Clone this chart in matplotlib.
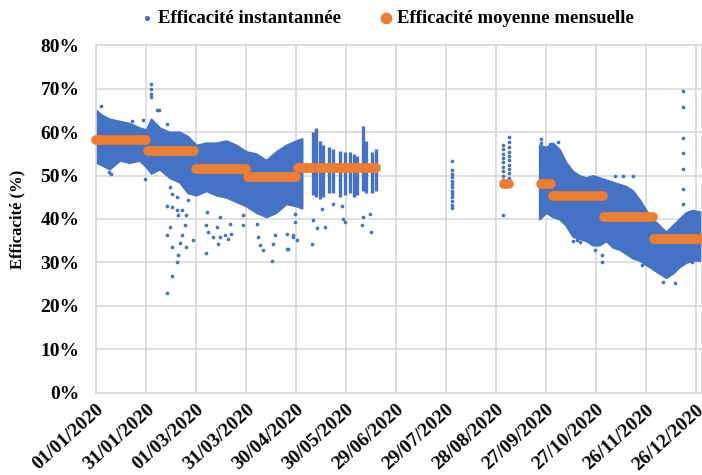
import numpy as np
import matplotlib.pyplot as plt
import matplotlib.dates as mdates
from matplotlib.ticker import PercentFormatter

## Fonts: bold serif everywhere.
plt.rcParams['font.family'] = ['Liberation Serif', 'DejaVu Serif']
plt.rcParams['font.weight'] = 'bold'
plt.rcParams['axes.labelweight'] = 'bold'

BLUE = "#4472C4"
ORANGE = "#ED7D31"
START = mdates.date2num(np.datetime64('2020-01-01'))

## Dense cloud of readings, January to early May (day of year, min %, max %).
spring_days = [0, 3, 8, 14, 20, 26, 30, 33, 38, 44, 50, 55, 60, 66, 72, 78, 84, 90, 96, 102, 108, 114, 120, 123.5]
spring_low = [53, 52.5, 51.5, 53.5, 53, 53.5, 52, 50.5, 51.5, 49.5, 48.5, 46, 45.5, 46.5, 45.5, 45, 44, 43, 41.5, 40.5, 41.5, 43.5, 43, 42.5]
spring_high = [65, 64, 63, 62.5, 62, 61, 60.5, 63, 61, 60, 60, 59, 57, 57.5, 57.5, 58, 57, 55.5, 55, 53.5, 55.5, 57, 58, 58.5]

## Daily columns of readings in May and June.
column_days = [130.4, 132, 134.4, 136.2, 139.8, 142.2, 146.4, 149.4, 152.4, 154.8, 156.6, 160.2, 162, 165.6, 168]
column_low = [45.5, 45, 44.5, 45, 46, 46, 45, 45.5, 46, 45, 45.5, 46.5, 46, 46, 46.5]
column_high = [59.9, 61, 58, 57, 56.5, 56, 55.7, 55.5, 55.3, 55, 54.5, 61.5, 58, 55.5, 56]

## Dense cloud of readings, late September to December.
autumn_days = [266, 270, 274, 278, 282, 286, 290, 294, 298, 302, 306, 310, 314, 318, 322, 326, 330, 334, 338, 342, 346, 350, 354, 358, 364]
autumn_low = [40, 41.5, 40.5, 40, 38.5, 36, 35.5, 35, 34, 34, 35, 33.5, 33, 32, 31, 30.5, 29.5, 28.5, 27.5, 26.5, 27.5, 29, 30, 30.5, 30.5]
autumn_high = [57, 56.5, 57.5, 56, 53, 51, 50, 49.5, 50, 49.5, 49, 48.5, 48, 47.5, 46.5, 44.5, 42, 40, 38.5, 37, 38.5, 40, 41.5, 42, 41.5]

## Isolated readings outside the dense clouds (day of year, %).
winter_strays = [(3, 66), (21.4, 62.6), (28.4, 62.8), (33, 71), (33, 69.9), (33, 68.7), (33, 68),
                 (36.4, 65.1), (37.8, 65.1), (42.4, 61.9), (7.4, 50.8), (8.8, 50.4), (29.4, 49.2),
                 (42.4, 43.1), (45.4, 42.7), (48.8, 42), (51.4, 42), (44.4, 38.1), (42.4, 36.2),
                 (51.4, 36.2), (58.4, 35.1), (50.4, 34.5), (54, 33.6), (45.4, 33.6), (49.4, 31.7),
                 (48.4, 30.1), (45.4, 26.9), (42.4, 23), (53.4, 38.5), (49.4, 40.8), (54, 40.8),
                 (44.4, 47.3), (45.4, 45.8), (48.8, 45), (55, 44.3)]
spring_strays = [(66.4, 41.6), (67.4, 37), (66, 38.5), (65.8, 32.2), (70.4, 35.8), (73, 34.3),
                 (74.4, 35.8), (72.4, 38.1), (77.4, 36.2), (79.4, 35.5), (81, 36.6), (80.4, 38.9),
                 (88.4, 38.5), (97.4, 35.8), (98.4, 33.9), (100.4, 32.8), (105.4, 30.3), (106.4, 34.3),
                 (107.4, 36.2), (96.4, 38.9), (114.4, 33), (115.4, 33), (118.4, 35.8), (114.4, 36.6),
                 (119.4, 39.3), (74.4, 40.4), (88.4, 40.8), (120.4, 35.1), (118.4, 36.2), (119.4, 41.2),
                 (129.4, 34.3), (130.4, 39.7), (132.4, 38), (137.4, 38.1), (148.4, 40.1), (149.4, 39.3),
                 (159.4, 38.5), (160.4, 40.4), (164.8, 36.9), (164.4, 41.2), (135.4, 42.4), (142.4, 43.5),
                 (147.4, 43.1)]
autumn_strays = [(267, 58.4), (267, 57.5), (277, 57.6), (272.4, 57.3), (286.4, 34.9), (290.4, 34.7),
                 (303.4, 31.7), (303.4, 30.1), (299.4, 32.8), (311.4, 50), (316.4, 50), (322.4, 50),
                 (288.4, 35.1), (296.4, 34.9), (327.4, 29.4), (340.4, 25.5), (347.4, 25.2),
                 (353.4, 30.5), (357.4, 30.1)]

## Sparse single-day columns (day of year, readings in %).
july_day, july_values = 213.4, [53.4, 51.3, 50.4, 49.6, 48.8, 48.0, 47.3, 46.5, 45.8, 45.0, 44.2, 43.3, 42.5]
aug_day1, aug_values1 = 244, [57.0, 56.0, 55.0, 54.0, 53.0, 52.0, 51.0, 50.0, 49.0, 41.0]
aug_day2, aug_values2 = 248, [58.8, 57.6, 56.5, 55.5, 54.5, 53.5, 52.5, 51.5, 50.5, 49.5]
dec_day, dec_values = 352.4, [69.5, 65.7, 58.6, 55.2, 51.4, 47.0, 43.5]

## Monthly mean efficiency, plotted over the days that have readings.
mean_first = [0, 31, 60, 91, 121, 213.4, 244.5, 267, 274, 305, 335]
mean_last = [30, 59, 90, 120, 168, 213.4, 248, 273, 304, 334, 366]
mean_values = [58.2, 55.6, 51.5, 49.6, 51.7, 47.3, 48.1, 48.1, 45.3, 40.4, 35.3]


def to_x(days):
    return START + np.asarray(days, dtype=float)


def pct(values):
    return np.asarray(values, dtype=float) / 100


fig = plt.figure(figsize=(7.02, 4.75), dpi=100)
ax = fig.add_axes([0.137, 0.173, 0.863, 0.732])

## Dense clouds as filled bands.
ax.fill_between(to_x(spring_days), pct(spring_low), pct(spring_high), color=BLUE, lw=1.5, zorder=2)
ax.fill_between(to_x(autumn_days), pct(autumn_low), pct(autumn_high), color=BLUE, lw=1.5, zorder=2)
ax.vlines(to_x(column_days), pct(column_low), pct(column_high), color=BLUE, lw=2.4, zorder=2)

## Isolated readings.
strays = winter_strays + spring_strays + autumn_strays
sd, sv = zip(*strays)
ax.scatter(to_x(sd), pct(sv), s=7, color=BLUE, lw=0, zorder=2)
for day, values in [(july_day, july_values), (aug_day1, aug_values1),
                    (aug_day2, aug_values2), (dec_day, dec_values)]:
    ax.scatter(to_x([day] * len(values)), pct(values), s=7, color=BLUE, lw=0, zorder=2)

## Monthly means as thick orange bars.
for first, last, value in zip(mean_first, mean_last, mean_values):
    ax.plot(to_x([first, last]), pct([value, value]), color=ORANGE, lw=7,
            solid_capstyle='round', zorder=3, clip_on=False)

## Legend handles.
ax.scatter([], [], s=7, color=BLUE, label="Efficacité instantannée")
ax.scatter([], [], s=55, color=ORANGE, label="Efficacité moyenne mensuelle")
fig.legend(loc='center', bbox_to_anchor=(0.551, 0.962), ncol=2, frameon=False,
           fontsize=13.5, handlelength=0.8, handletextpad=0.2, columnspacing=2.0)

## Axes.
ax.set_ylim(0, 0.8)
ax.set_xlim(START, START + 363.6)
ax.yaxis.set_major_formatter(PercentFormatter(1.0, decimals=0))
ax.set_yticks(np.arange(0, 0.81, 0.1))
ax.set_xticks(START + np.arange(0, 361, 30))
ax.xaxis.set_major_formatter(mdates.DateFormatter('%d/%m/%Y'))
ax.tick_params(length=0)
ax.tick_params(axis='y', labelsize=14, pad=12)
ax.tick_params(axis='x', labelsize=14, pad=6)
plt.setp(ax.get_xticklabels(), rotation=42, ha='right', va='top', rotation_mode='anchor')
ax.set_ylabel("Efficacité (%)", fontsize=12, labelpad=11)
ax.grid(True, color="#D9D9D9", lw=1.2, zorder=0)
ax.set_axisbelow(True)
for side in ax.spines.values():
    side.set_color("#D9D9D9")
    side.set_linewidth(1.2)

fig.savefig("out.png", dpi=100)
